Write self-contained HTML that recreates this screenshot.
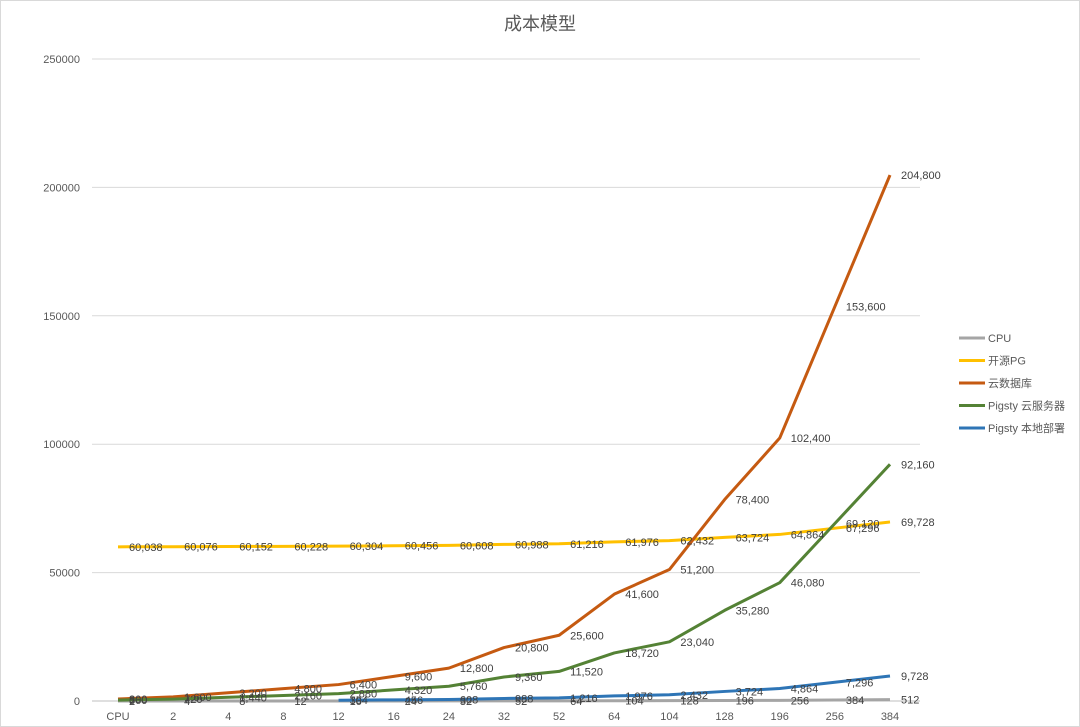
<!DOCTYPE html><html><head><meta charset="utf-8"><style>
body{margin:0;background:#fff}
svg{display:block;font-family:"Liberation Sans","Noto Sans CJK SC",sans-serif}
</style></head><body>
<svg id="s" width="1080" height="727" xmlns="http://www.w3.org/2000/svg">
<rect x="0.5" y="0.5" width="1079" height="726" fill="#fff" stroke="#d9d9d9"/>
<text x="540" y="30" font-size="18" fill="#595959" text-anchor="middle">成本模型</text>
<g id="g"></g>
</svg>
<script>
const g=document.getElementById('g');let h='';
const x0=118,dx=(890-118)/14,y0=701,k=(701-59)/250000;
const X=i=>x0+i*dx,Y=v=>y0-v*k;
for(let v=0;v<=250000;v+=50000){h+=`<line x1="92" x2="920" y1="${Y(v)}" y2="${Y(v)}" stroke="${v?'#d9d9d9':'#bfbfbf'}"/><text x="80" y="${Y(v)+4}" font-size="11" fill="#595959" text-anchor="end">${v}</text>`}
const cats=['CPU',2,4,8,12,16,24,32,52,64,104,128,196,256,384];
cats.forEach((c,i)=>h+=`<text x="${X(i)}" y="720" font-size="11" fill="#595959" text-anchor="middle">${c}</text>`);
const cpu=[2,4,8,12,16,24,32,52,64,104,128,196,256,384,512];
const ser=[
['#a5a5a5',cpu.map(c=>c),0],
['#ffc000',cpu.map(c=>60000+19*c),0],
['#c55a11',cpu.map(c=>400*c),0],
['#548235',cpu.map(c=>180*c),0],
['#2e75b6',cpu.map(c=>19*c),4]];
const fmt=v=>v.toLocaleString('en-US');
ser.forEach(([col,d,s])=>{let p=[];for(let i=s;i<15;i++)p.push(X(i)+','+Y(d[i]));
h+=`<polyline points="${p.join(' ')}" fill="none" stroke="${col}" stroke-width="3" stroke-linejoin="round"/>`;});
ser.forEach(([col,d,s])=>{for(let i=s;i<15;i++)h+=`<text x="${X(i)+11}" y="${Y(d[i])+4}" font-size="11" fill="#404040">${fmt(d[i])}</text>`;});
const names=['CPU','开源PG','云数据库','Pigsty 云服务器','Pigsty 本地部署'];
names.forEach((n,i)=>{const y=338+i*22.5;h+=`<line x1="959" x2="985" y1="${y}" y2="${y}" stroke="${ser[i][0]}" stroke-width="3"/><text x="988" y="${y+4}" font-size="11" fill="#595959">${n}</text>`});
g.innerHTML=h;
</script>
</body></html>
